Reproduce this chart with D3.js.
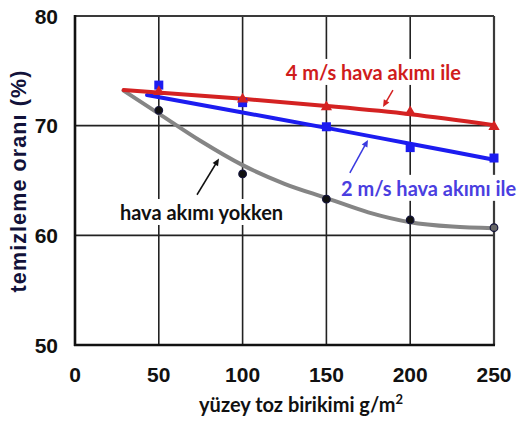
<!DOCTYPE html>
<html>
<head>
<meta charset="utf-8">
<script src="https://cdn.jsdelivr.net/npm/d3@7"></script>
<style>
  html, body { margin: 0; padding: 0; background: #fff; }
  svg { display: block; }
</style>
</head>
<body>
<svg id="chart" width="519" height="424"></svg>
<script>
// ---- data ----
const xTicks = [0, 50, 100, 150, 200, 250];
const yTicks = [50, 60, 70, 80];

// 4 m/s hava akımı ile (red triangles)
const redX = [50, 100, 150, 200, 250];
const redY = [73.1, 72.4, 71.7, 71.25, 69.9];
const redFitX = [29, 100, 150, 200, 250];
const redFitY = [73.25, 72.45, 71.8, 71.05, 70.05];

// 2 m/s hava akımı ile (blue squares)
const blueX = [50, 100, 150, 200, 250];
const blueY = [73.7, 72.1, 69.9, 68.0, 67.05];
const blueFitX = [43, 100, 150, 200, 250];
const blueFitY = [72.8, 71.2, 69.8, 68.35, 66.9];

// hava akımı yokken (black dots)
const noneX = [50, 100, 150, 200, 250];
const noneY = [71.4, 65.6, 63.3, 61.4, 60.7];
const noneFitX = [29, 50, 75, 100, 125, 150, 175, 200, 225, 250];
const noneFitY = [73.2, 71.1, 68.6, 66.4, 64.7, 63.4, 62.1, 61.2, 60.8, 60.65];

const labels = ["4 m/s hava akımı ile", "2 m/s hava akımı ile", "hava akımı yokken"];
const xTitle = "yüzey toz birikimi g/m";
const yTitle = "temizleme oranı (%)";

// ---- layout ----
const svg = d3.select("#chart");
const x = d3.scaleLinear().domain([0, 250]).range([75, 494]);
const y = d3.scaleLinear().domain([50, 80]).range([345, 16]);

// grid
const grid = svg.append("g");
grid.selectAll("line.v").data(xTicks.slice(1, -1)).join("line")
  .attr("x1", d => x(d)).attr("x2", d => x(d))
  .attr("y1", y(80)).attr("y2", y(50))
  .attr("stroke", "#222").attr("stroke-width", 1.6);
grid.selectAll("line.h").data(yTicks.slice(1, -1)).join("line")
  .attr("x1", x(0)).attr("x2", x(250))
  .attr("y1", d => y(d)).attr("y2", d => y(d))
  .attr("stroke", "#222").attr("stroke-width", 1.6);

// frame
svg.append("line").attr("x1", x(0)).attr("x2", x(250)).attr("y1", y(80)).attr("y2", y(80))
  .attr("stroke", "#3a3a3a").attr("stroke-width", 2.2);
svg.append("line").attr("x1", x(250)).attr("x2", x(250)).attr("y1", y(80)).attr("y2", y(50))
  .attr("stroke", "#3a3a3a").attr("stroke-width", 2.2);
svg.append("line").attr("x1", x(0)).attr("x2", x(0)).attr("y1", y(80) - 1).attr("y2", y(50) + 1)
  .attr("stroke", "#111").attr("stroke-width", 2.6);
svg.append("line").attr("x1", x(0) - 1).attr("x2", x(250) + 1).attr("y1", y(50)).attr("y2", y(50))
  .attr("stroke", "#111").attr("stroke-width", 2.6);

// tick labels
const tickFont = "'Liberation Sans', Arial, sans-serif";
svg.append("g").selectAll("text").data(yTicks).join("text")
  .attr("x", 58).attr("y", d => y(d) + 7.5)
  .attr("text-anchor", "end")
  .attr("font-family", tickFont).attr("font-weight", "bold").attr("font-size", 21)
  .attr("fill", "#111").text(d => d);
svg.append("g").selectAll("text").data(xTicks).join("text")
  .attr("x", d => x(d)).attr("y", 382)
  .attr("text-anchor", "middle")
  .attr("font-family", tickFont).attr("font-weight", "bold").attr("font-size", 21)
  .attr("fill", "#111").text(d => d);

// axis titles
svg.append("text")
  .attr("transform", "translate(26,181) rotate(-90)")
  .attr("text-anchor", "middle")
  .attr("font-family", tickFont).attr("font-weight", "bold").attr("font-size", 21.5)
  .attr("letter-spacing", 1.1)
  .attr("fill", "#12123a").text(yTitle);

const xt = svg.append("text")
  .attr("x", 301).attr("y", 412)
  .attr("text-anchor", "middle")
  .attr("font-family", "Lato, 'Open Sans', sans-serif").attr("font-weight", "bold").attr("font-size", 20)
  .attr("fill", "#111");
xt.append("tspan").text(xTitle);
xt.append("tspan").attr("dy", -8).attr("font-size", 13).text("2");

// annotation labels (positions in data units)
const labelPos = [
  { text: labels[0], cx: 178, by: 74.17, color: "#d01c1c" },
  { text: labels[1], cx: 211, by: 63.6, color: "#4a3ee0" },
  { text: labels[2], cx: 75.5, by: 61.4, color: "#111" }
];
const lblG = svg.append("g");
labelPos.forEach(p => {
  const t = lblG.append("text")
    .attr("x", x(p.cx)).attr("y", y(p.by))
    .attr("text-anchor", "middle")
    .attr("font-family", "Lato, 'Open Sans', sans-serif").attr("font-weight", "bold")
    .attr("font-size", 20)
    .attr("fill", p.color).text(p.text);
  const bb = t.node().getBBox();
  lblG.insert("rect", "text")
    .attr("x", bb.x - 3).attr("y", bb.y - 1)
    .attr("width", bb.width + 6).attr("height", bb.height + 2)
    .attr("fill", "#fff");
});

// fitted lines
const line = d3.line().x(d => x(d[0])).y(d => y(d[1])).curve(d3.curveMonotoneX);
const dataG = svg.append("g");
dataG.append("path").datum(d3.zip(noneFitX, noneFitY)).attr("d", line)
  .attr("fill", "none").attr("stroke", "#858585").attr("stroke-width", 4).attr("stroke-linecap", "round");
dataG.append("path").datum(d3.zip(blueFitX, blueFitY)).attr("d", line)
  .attr("fill", "none").attr("stroke", "#1c1cf0").attr("stroke-width", 4).attr("stroke-linecap", "round");
dataG.append("path").datum(d3.zip(redFitX, redFitY)).attr("d", line)
  .attr("fill", "none").attr("stroke", "#d42222").attr("stroke-width", 4).attr("stroke-linecap", "round");

// markers
dataG.selectAll("circle").data(d3.zip(noneX, noneY)).join("circle")
  .attr("cx", d => x(d[0])).attr("cy", d => y(d[1])).attr("r", 3.8)
  .attr("fill", (d, i) => i === noneX.length - 1 ? "#666" : "#111")
  .attr("stroke", "#14143a").attr("stroke-width", 1.2);
dataG.selectAll("rect.sq").data(d3.zip(blueX, blueY)).join("rect")
  .attr("class", "sq")
  .attr("x", d => x(d[0]) - 4.5).attr("y", d => y(d[1]) - 4.5)
  .attr("width", 9).attr("height", 9).attr("fill", "#1c1cf0");
const tri = d3.symbol().type(d3.symbolTriangle).size(55);
dataG.selectAll("path.tri").data(d3.zip(redX, redY)).join("path")
  .attr("class", "tri")
  .attr("d", tri)
  .attr("transform", d => `translate(${x(d[0])},${y(d[1])})`)
  .attr("fill", "#d42222");

// arrows (data units)
const arrows = [
  { from: [189.7, 73.25], to: [183.8, 71.7], color: "#d42222" },
  { from: [164, 65.7], to: [174.8, 68.7], color: "#3a3ae0" },
  { from: [72.8, 63.7], to: [85.9, 67.0], color: "#111" }
];
arrows.forEach(a => {
  const x1 = x(a.from[0]), y1 = y(a.from[1]), x2 = x(a.to[0]), y2 = y(a.to[1]);
  const ang = Math.atan2(y2 - y1, x2 - x1);
  const L = 7, W = 3.2;
  dataG.append("line").attr("x1", x1).attr("y1", y1)
    .attr("x2", x2 - Math.cos(ang) * 4).attr("y2", y2 - Math.sin(ang) * 4)
    .attr("stroke", a.color).attr("stroke-width", 1.5);
  const bx = x2 - Math.cos(ang) * L, by = y2 - Math.sin(ang) * L;
  const px = -Math.sin(ang) * W, py = Math.cos(ang) * W;
  dataG.append("path")
    .attr("d", `M${x2},${y2}L${bx + px},${by + py}L${bx - px},${by - py}Z`)
    .attr("fill", a.color);
});
</script>
</body>
</html>
